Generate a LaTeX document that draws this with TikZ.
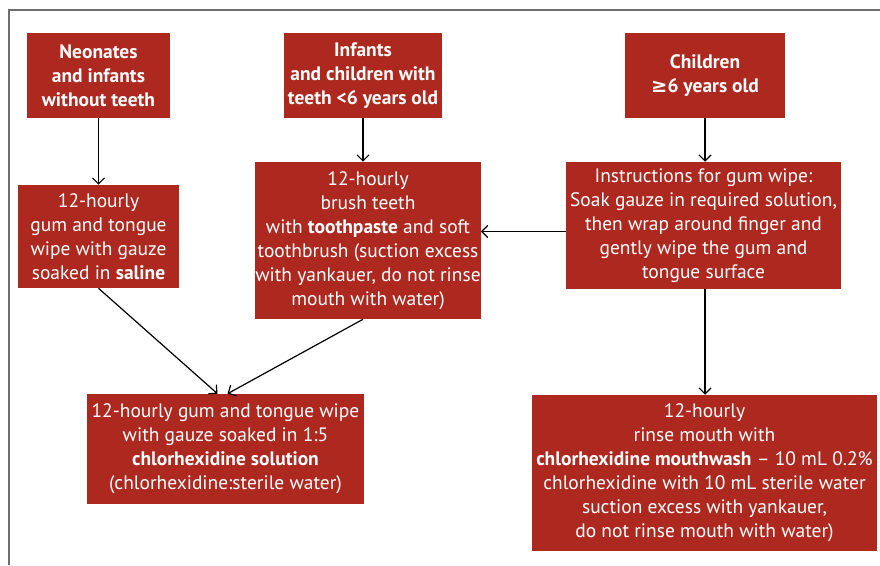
\documentclass[tikz,border=0pt]{standalone}
\usepackage{fontspec}
\setmainfont{PT Sans}
\newfontfamily\symfont{DejaVu Sans}
\usetikzlibrary{arrows.meta,calc}
\definecolor{boxred}{HTML}{AD291F}
\definecolor{framegrey}{HTML}{6E6E6E}
\begin{document}
\begin{tikzpicture}[x=0.75pt,y=-0.75pt,
  box/.style={draw=none,fill=boxred,text=white,align=center,inner sep=0pt,
    font=\fontsize{14.6}{18}\selectfont},
  arr/.style={draw=black,line width=0.9pt,-{Straight Barb[length=4.5pt,width=9pt]}}]
\useasboundingbox (0,0) rectangle (880,565);
\draw[framegrey,line width=0.9pt] (9,565) -- (9,10) -- (880,10);
% top row
\node[box,minimum width=107.25pt,minimum height=63.75pt] (neo) at (98.5,75.5)
  {\textbf{Neonates}\\\textbf{and infants}\\\textbf{without teeth}};
\node[box,minimum width=118.5pt,minimum height=63.75pt] (inf) at (363,75.5)
  {\textbf{Infants}\\\textbf{and children with}\\\textbf{teeth <6 years old}};
\node[box,minimum width=120pt,minimum height=63.75pt] (chi) at (705,75.5)
  {\textbf{Children}\\\textbf{{\symfont\bfseries ≥}6 years old}};
% middle row
\node[box,minimum width=120.75pt,minimum height=77.25pt] (gum) at (98.5,236.5)
  {12-hourly\\gum and tongue\\wipe with gauze\\soaked in \textbf{saline}};
\node[box,minimum width=168pt,minimum height=117.75pt] (brush) at (368,240.5)
  {12-hourly\\brush teeth\\with \textbf{toothpaste} and soft\\toothbrush (suction excess\\with yankauer, do not rinse\\mouth with water)};
\node[box,minimum width=206.25pt,minimum height=95.25pt] (instr) at (703.5,225.5)
  {Instructions for gum wipe:\\Soak gauze in required solution,\\then wrap around finger and\\gently wipe the gum and\\tongue surface};
% bottom row
\node[box,minimum width=207.75pt,minimum height=82.5pt] (chx) at (225.5,449)
  {12-hourly gum and tongue wipe\\with gauze soaked in 1:5\\\textbf{chlorhexidine solution}\\(chlorhexidine:sterile water)};
\node[box,minimum width=258.75pt,minimum height=117pt] (rinse) at (704.5,473)
  {12-hourly\\rinse mouth with\\\textbf{chlorhexidine mouthwash} – 10 mL 0.2\%\\chlorhexidine with 10 mL sterile water\\suction excess with yankauer,\\do not rinse mouth with water)};
% connectors
\draw[arr] (neo.south) -- (neo.south |- gum.north);
\draw[arr] (inf.south) -- (inf.south |- brush.north);
\draw[arr] (chi.south) -- (chi.south |- instr.north);
\draw[arr] ($(instr.west)+(0,6)$) -- ($(brush.east |- instr.west)+(0,6)$);
\draw[arr] ($(instr.south)+(1.5,0)$) -- ($(rinse.north -| instr.south)+(1.5,0)$);
\draw[arr] (gum.south) -- ($(chx.north)+(-8,0)$);
\draw[arr] ($(brush.south)+(-5,0)$) -- ($(chx.north)+(2,0)$);
\end{tikzpicture}
\end{document}
